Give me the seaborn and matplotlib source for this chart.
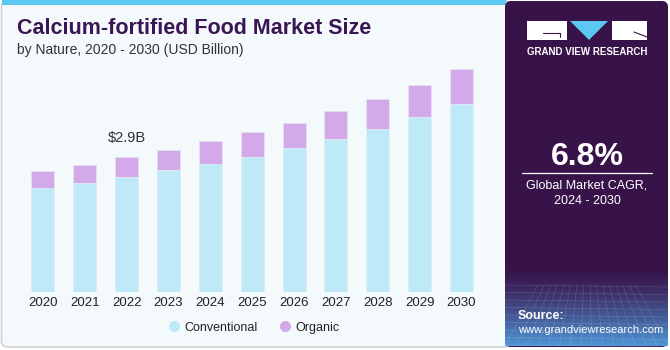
import numpy as np
import pandas as pd
import matplotlib.pyplot as plt
import seaborn as sns
from matplotlib.patches import FancyBboxPatch, Rectangle, Polygon
from matplotlib.lines import Line2D
from matplotlib.colors import to_rgb


years = ["2020", "2021", "2022", "2023", "2024", "2025", "2026", "2027", "2028", "2029", "2030"]
conventional = [2.23, 2.34, 2.48, 2.61, 2.76, 2.91, 3.09, 3.29, 3.51, 3.76, 4.04]
organic = [0.36, 0.39, 0.42, 0.44, 0.48, 0.52, 0.55, 0.60, 0.64, 0.69, 0.75]

label_year = "2022"
label_text = "$2.9B"

c_conv = "#BEEAF8"
c_org = "#D4A9EA"
purple = "#38134A"

data = pd.DataFrame({"year": years, "Conventional": conventional, "Organic": organic})
data["total"] = data["Conventional"] + data["Organic"]

sns.set_style("white")
plt.rcParams["font.family"] = ["Liberation Sans", "DejaVu Sans"]

fig = plt.figure(figsize=(6.7, 3.5), dpi=100)
fig.patch.set_facecolor("white")

# background / decoration axes in pixel coordinates
bg = fig.add_axes([0, 0, 1, 1])
bg.set_xlim(0, 670)
bg.set_ylim(350, 0)
bg.axis("off")

bg.add_patch(FancyBboxPatch((1.5, 1), 510, 346, boxstyle="round,pad=0,rounding_size=6",
                            facecolor="#F4F9FC", edgecolor="#D0D3D6", lw=1.2))
bg.add_patch(Rectangle((1.5, 0), 504, 5, facecolor="#5CC8F0", edgecolor="none"))

# right panel
bg.add_patch(FancyBboxPatch((505, 1), 163, 346, boxstyle="round,pad=0,rounding_size=6",
                            facecolor=purple, edgecolor="none"))
grad = np.linspace(0, 1, 100) ** 1.3
top_rgb = np.array(to_rgb(purple))
bot_rgb = np.array(to_rgb("#4E96D6"))
img = top_rgb[None, :] * (1 - grad[:, None]) + bot_rgb[None, :] * grad[:, None]
img = np.repeat(img[:, None, :], 2, axis=1)
bg.imshow(img, extent=[505, 668, 346, 268], aspect="auto", interpolation="bilinear", zorder=2)
for yy in np.linspace(285, 345, 9):
    bg.plot([505, 668], [yy, yy + 2], color="white", lw=0.4, alpha=0.18, zorder=3)
for xx in np.linspace(505, 668, 16):
    bg.plot([587 + (xx - 587) * 0.6, xx], [285, 346], color="white", lw=0.4, alpha=0.18, zorder=3)

# logo
bg.add_patch(Rectangle((527, 21), 40, 19, facecolor="white", edgecolor="none", zorder=4))
bg.plot([543, 560, 560], [33, 33, 37], color=purple, lw=0.8, zorder=5)
bg.add_patch(Polygon([(570, 21), (608, 21), (589, 40)], facecolor="#5BC8F2", edgecolor="none", zorder=4))
bg.add_patch(Rectangle((612, 21), 35, 19, facecolor="white", edgecolor="none", zorder=4))
bg.plot([634, 647], [32, 37], color=purple, lw=0.8, zorder=5)
bg.text(587, 52, "GRAND VIEW RESEARCH", color="white", fontsize=7, fontweight="bold",
        ha="center", va="center", zorder=5)

bg.text(587, 157, "6.8%", color="white", fontsize=23, fontweight="bold", ha="center", va="center", zorder=5)
bg.plot([522, 652], [173, 173], color="white", lw=0.9, zorder=5)
bg.text(587, 186, "Global Market CAGR,", color="white", fontsize=9, ha="center", va="center", zorder=5)
bg.text(587, 201, "2024 - 2030", color="white", fontsize=9, ha="center", va="center", zorder=5)
bg.text(518, 316, "Source:", color="white", fontsize=9, fontweight="bold", ha="left", va="center", zorder=5)
bg.text(518, 330, "www.grandviewresearch.com", color="white", fontsize=8, ha="left", va="center", zorder=5)

# titles
bg.text(17, 29, "Calcium-fortified Food Market Size", color="#3B1654", fontsize=15.5,
        fontweight="heavy", ha="left", va="center")
bg.text(17, 50, "by Nature, 2020 - 2030 (USD Billion)", color="#333333", fontsize=10,
        ha="left", va="center")

# bar chart
ax = fig.add_axes([17 / 670, 1 - 291.7 / 350, 473 / 670, (291.7 - 59.5) / 350])
ax.set_facecolor("none")
sns.barplot(data=data, x="year", y="total", order=years, color=c_org, width=0.55,
            saturation=1, edgecolor="#E4E0F4", linewidth=0.6, ax=ax)
sns.barplot(data=data, x="year", y="Conventional", order=years, color=c_conv, width=0.55,
            saturation=1, edgecolor="#E4EEF8", linewidth=0.6, ax=ax)
ax.set_xlim(-0.62, 10.68)
ax.set_ylim(0, 5)
ax.set_xlabel("")
ax.set_ylabel("")
ax.set_yticks([])
sns.despine(ax=ax, left=True, bottom=True)
ax.tick_params(axis="x", length=0, pad=4, labelsize=9.5, labelcolor="#222222")

i = years.index(label_year)
ax.text(i, data["total"][i] + 0.4, label_text, ha="center", va="center", fontsize=10.5, color="#333333")

handles = [Line2D([], [], marker="o", linestyle="none", markersize=7, color=c_conv),
           Line2D([], [], marker="o", linestyle="none", markersize=7, color=c_org)]
fig.legend(handles, ["Conventional", "Organic"], loc="center", bbox_to_anchor=(253 / 670, 1 - 327.7 / 350),
           ncol=2, frameon=False, fontsize=9, handletextpad=0.2, handlelength=1.2,
           columnspacing=1.6, labelcolor="#222222")

fig.savefig("out.png", dpi=100, facecolor=fig.get_facecolor())
